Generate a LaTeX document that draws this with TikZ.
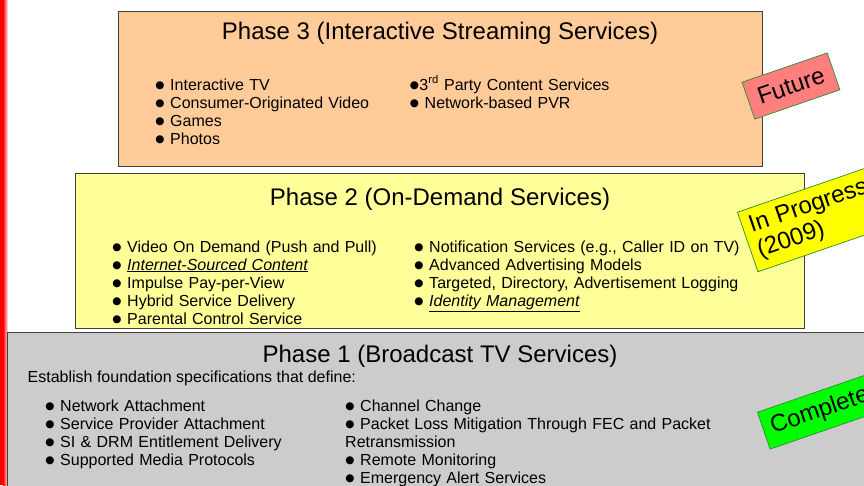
\documentclass[tikz,border=0pt]{standalone}
\usepackage{fontspec}
\setmainfont{Liberation Sans}
\newfontfamily\bulletfont{DejaVu Sans}
\newcommand{\bul}{\makebox[9.7pt][c]{\raisebox{1.2pt}{\bulletfont\fontsize{10.5}{10.5}\selectfont ●}}}
\definecolor{peach}{HTML}{FFCC99}
\definecolor{paleyellow}{HTML}{FFFF99}
\definecolor{panelgray}{HTML}{CCCCCC}
\definecolor{tagpink}{HTML}{FF7F7F}
\definecolor{tagyellow}{HTML}{FFFF00}
\definecolor{taggreen}{HTML}{00FF00}
\definecolor{tagedge}{HTML}{2E8B2E}
\definecolor{boxedge}{HTML}{404040}
\begin{document}
\begin{tikzpicture}[x=1pt,y=-1pt,
  box/.style={draw=boxedge, line width=1.4pt, anchor=north west, inner sep=0},
  phasetitle/.style={anchor=base, inner sep=0, font=\fontsize{24}{28}\selectfont},
  col/.style={anchor=base west, align=left, inner sep=0, text width=#1,
              font=\fontsize{16}{18}\selectfont},
  tag/.style={draw=tagedge, line width=0.7pt, rotate=19,
              font=\fontsize{24}{26}\selectfont}
]
\useasboundingbox (0,0) rectangle (864,485);
\clip (0,0) rectangle (864,485);
% red edge
\fill[red] (0,0) rectangle (3,485);
\shade[left color=red, right color=white] (3,0) rectangle (8,485);

% Phase boxes
\node (p3) [box, fill=peach, minimum width=644, minimum height=155] at (118,11) {};
\node (p2) [box, fill=paleyellow, minimum width=729, minimum height=155] at (75,173) {};
\node (p1) [box, fill=panelgray, minimum width=870, minimum height=170] at (7,332) {};

% Phase 3
\node (t3) [phasetitle] at (440,39.5) {Phase 3 (Interactive Streaming Services)};
\node (c3a) [col=240] at (155,90) {\bul{} Interactive TV\\\bul{} Consumer-Originated Video\\\bul{} Games\\\bul{} Photos};
\node (c3b) [col=260] at (409.5,90) {\bul3\textsuperscript{rd} Party Content Services\\\bul{} Network-based PVR};

% Phase 2
\node (t2) [phasetitle] at (440,205) {Phase 2 (On-Demand Services)};
\node (c2a) [col=290] at (112,252) {\bul{} Video On Demand (Push and Pull)\\\bul{} \underline{\textit{Internet-Sourced Content}}\\\bul{} Impulse Pay-per-View\\\bul{} Hybrid Service Delivery\\\bul{} Parental Control Service};
\node (c2b) [col=340] at (414,252) {\bul{} Notification Services (e.g., Caller ID on TV)\\\bul{} Advanced Advertising Models\\\bul{} Targeted, Directory, Advertisement Logging\\\bul{} \underline{\textit{Identity Management}}};

% Phase 1
\node (t1) [phasetitle] at (440,362) {Phase 1 (Broadcast TV Services)};
\node (est) [anchor=base west, inner sep=0, font=\fontsize{16}{18}\selectfont] at (27.5,382) {Establish foundation specifications that define:};
\node (c1a) [col=280] at (45,411) {\bul{} Network Attachment\\\bul{} Service Provider Attachment\\\bul{} SI \& DRM Entitlement Delivery\\\bul{} Supported Media Protocols};
\node (c1b) [col=380] at (345,411) {\bul{} Channel Change\\\bul{} Packet Loss Mitigation Through FEC and Packet\\Retransmission\\\bul{} Remote Monitoring\\\bul{} Emergency Alert Services};

% status tags
\node (future) [tag, fill=tagpink, minimum width=90, minimum height=39, inner sep=0] at (791,86) {Future};
\node (inprog) [tag, fill=tagyellow, anchor=north west, minimum height=63, text width=160, inner xsep=7, inner ysep=0, align=left] at (737,212) {In Progress\\(2009)};
\node (complete) [tag, fill=taggreen, anchor=north west, minimum height=39, text width=150, inner xsep=8, inner ysep=0, align=left] at (757,412) {Complete};
\end{tikzpicture}
\end{document}
